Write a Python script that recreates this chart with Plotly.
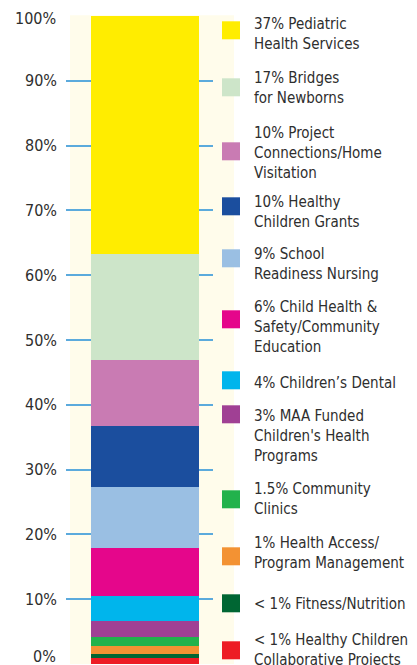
import plotly.graph_objects as go

# Data (bottom of stack to top)
labels = [
    "< 1% Healthy Children\nCollaborative Projects",
    "< 1% Fitness/Nutrition",
    "1% Health Access/\nProgram Management",
    "1.5% Community\nClinics",
    "3% MAA Funded\nChildren's Health\nPrograms",
    "4% Children’s Dental",
    "6% Child Health &\nSafety/Community\nEducation",
    "9% School\nReadiness Nursing",
    "10% Healthy\nChildren Grants",
    "10% Project\nConnections/Home\nVisitation",
    "17% Bridges\nfor Newborns",
    "37% Pediatric\nHealth Services",
]
values = [0.9, 0.7, 1.2, 1.4, 2.5, 3.8, 7.4, 9.4, 9.4, 10.2, 16.3, 36.8]
colors = ["#ED1C24", "#006633", "#F39233", "#22B24C", "#A04094", "#00B5EC",
          "#E5068B", "#9ABFE3", "#1B4E9E", "#C97BB3", "#CDE5C9", "#FFED00"]
y_ticks = [0, 10, 20, 30, 40, 50, 60, 70, 80, 90, 100]
y_tick_labels = ["0%", "10%", "20%", "30%", "40%", "50%", "60%", "70%", "80%", "90%", "100%"]

# page offset of the plot div inside the browser page (body margin)
OFF = 8
# legend layout (page pixel positions of the square tops and text line centres)
sq_tops = [641, 594, 547, 490, 405, 371, 310, 249, 197, 142, 78, 21]
text_first = [640, 604, 543, 489, 416, 383, 307, 254, 202, 133, 78, 24]

W, H = 417 - OFF, 665 - OFF
L, R = 66 - OFF, 213 - OFF
T, B = 15.7 - OFF, 663.7 - OFF
FONT = "DejaVu Sans Condensed, Liberation Sans Narrow, sans-serif"
TXT = "#2E2E2E"

def px(x):
    return (x - OFF - L) / (R - L)

def py(y):
    return (B - (y - OFF)) / (B - T)

fig = go.Figure()
for lab, v, c in zip(labels, values, colors):
    fig.add_trace(go.Bar(x=[0], y=[v], name=lab.replace("\n", " "),
                         marker=dict(color=c, line=dict(width=0)),
                         width=0.735, hoverinfo="skip"))

shapes = [dict(type="rect", xref="paper", yref="paper", x0=px(70), x1=px(234), y0=0, y1=py(15),
               fillcolor="#FFFCEB", line=dict(width=0), layer="below")]
annotations = []
for lab, c, st, tf in zip(labels, colors, sq_tops, text_first):
    shapes.append(dict(type="rect", xref="paper", yref="paper", x0=px(222), x1=px(240),
                       y0=py(st + 18), y1=py(st), fillcolor=c, line=dict(width=0), layer="above"))
    for i, line in enumerate(lab.split("\n")):
        annotations.append(dict(xref="paper", yref="paper", x=px(252), y=py(tf + 20 * i),
                                xanchor="left", yanchor="middle", text=line, showarrow=False,
                                font=dict(family=FONT, size=15, color=TXT)))

# end tick labels are nudged inwards so they stay inside the page
for val, lab, shift in [(y_ticks[0], y_tick_labels[0], 8), (y_ticks[-1], y_tick_labels[-1], -2)]:
    annotations.append(dict(xref="paper", yref="y", x=0, y=val, xshift=-8, yshift=shift,
                            xanchor="right", yanchor="middle", text=lab, showarrow=False,
                            font=dict(family=FONT, size=16, color=TXT)))
axis_text = [""] + y_tick_labels[1:-1] + [""]

fig.update_layout(
    width=W, height=H,
    margin=dict(l=L, r=W - R, t=T, b=H - B, pad=0),
    barmode="stack", bargap=0,
    showlegend=False,
    paper_bgcolor="white", plot_bgcolor="rgba(0,0,0,0)",
    xaxis=dict(range=[-0.537, 0.463], showticklabels=False, showgrid=False, zeroline=False,
               showline=False, fixedrange=True),
    yaxis=dict(range=[0, 100], tickmode="array", tickvals=y_ticks, ticktext=axis_text,
               showgrid=True, gridcolor="#5BAADC", gridwidth=2, zeroline=False, showline=False,
               tickfont=dict(family=FONT, size=16, color=TXT), ticklabelstandoff=8,
               fixedrange=True),
    shapes=shapes, annotations=annotations,
)
fig.write_html("out.html")
